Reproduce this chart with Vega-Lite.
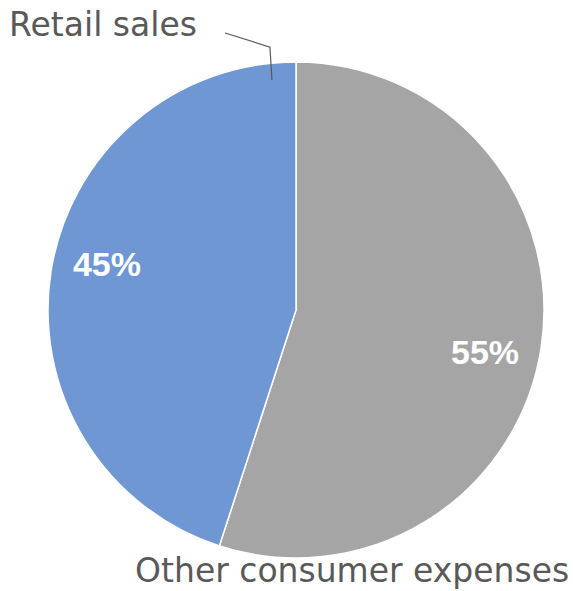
{
  "$schema": "https://vega.github.io/schema/vega-lite/v6.json",
  "autosize": {"type": "none"},
  "width": 496,
  "height": 496,
  "padding": {"left": 48, "top": 62, "right": 29, "bottom": 33},
  "background": "white",
  "config": {"view": {"stroke": null}},
  "datasets": {
    "shares": [
      {"category": "Other consumer expenses", "share": 0.55, "rank": 1},
      {"category": "Retail sales", "share": 0.45, "rank": 2}
    ],
    "callouts": [
      {"label": "Retail sales", "cx": -1.157, "cy": 1.105},
      {"label": "Other consumer expenses", "cx": -0.649, "cy": -1.097}
    ],
    "leader": [
      {"step": 1, "cx": -0.286, "cy": 1.117},
      {"step": 2, "cx": -0.105, "cy": 1.06},
      {"step": 3, "cx": -0.097, "cy": 0.927}
    ]
  },
  "layer": [
    {
      "data": {"name": "shares"},
      "mark": {"type": "arc", "outerRadius": 248, "stroke": "#ffffff", "strokeWidth": 1.5},
      "encoding": {
        "theta": {"field": "share", "type": "quantitative", "stack": true},
        "order": {"field": "rank", "type": "quantitative"},
        "color": {
          "field": "category",
          "type": "nominal",
          "scale": {"domain": ["Other consumer expenses", "Retail sales"], "range": ["#a5a5a5", "#6f97d3"]},
          "legend": null
        }
      }
    },
    {
      "data": {"name": "shares"},
      "mark": {"type": "text", "radius": 194, "font": "Liberation Sans", "fontSize": 34, "fontWeight": "bold", "color": "#ffffff", "baseline": "middle", "align": "center"},
      "encoding": {
        "theta": {"field": "share", "type": "quantitative", "stack": true, "scale": {"range": [0.07, 6.3532]}},
        "order": {"field": "rank", "type": "quantitative"},
        "text": {"field": "share", "type": "quantitative", "format": ".0%"}
      }
    },
    {
      "data": {"name": "leader"},
      "mark": {"type": "line", "color": "#595959", "strokeWidth": 1.2},
      "encoding": {
        "x": {"field": "cx", "type": "quantitative", "scale": {"domain": [-1, 1], "nice": false, "zero": false}, "axis": null},
        "y": {"field": "cy", "type": "quantitative", "scale": {"domain": [-1, 1], "nice": false, "zero": false}, "axis": null},
        "order": {"field": "step", "type": "quantitative"}
      }
    },
    {
      "data": {"name": "callouts"},
      "mark": {"type": "text", "font": "DejaVu Sans", "fontSize": 33, "color": "#595959", "align": "left", "baseline": "alphabetic"},
      "encoding": {
        "x": {"field": "cx", "type": "quantitative", "scale": {"domain": [-1, 1], "nice": false, "zero": false}, "axis": null},
        "y": {"field": "cy", "type": "quantitative", "scale": {"domain": [-1, 1], "nice": false, "zero": false}, "axis": null},
        "text": {"field": "label", "type": "nominal"}
      }
    }
  ],
  "resolve": {"scale": {"theta": "independent"}}
}
